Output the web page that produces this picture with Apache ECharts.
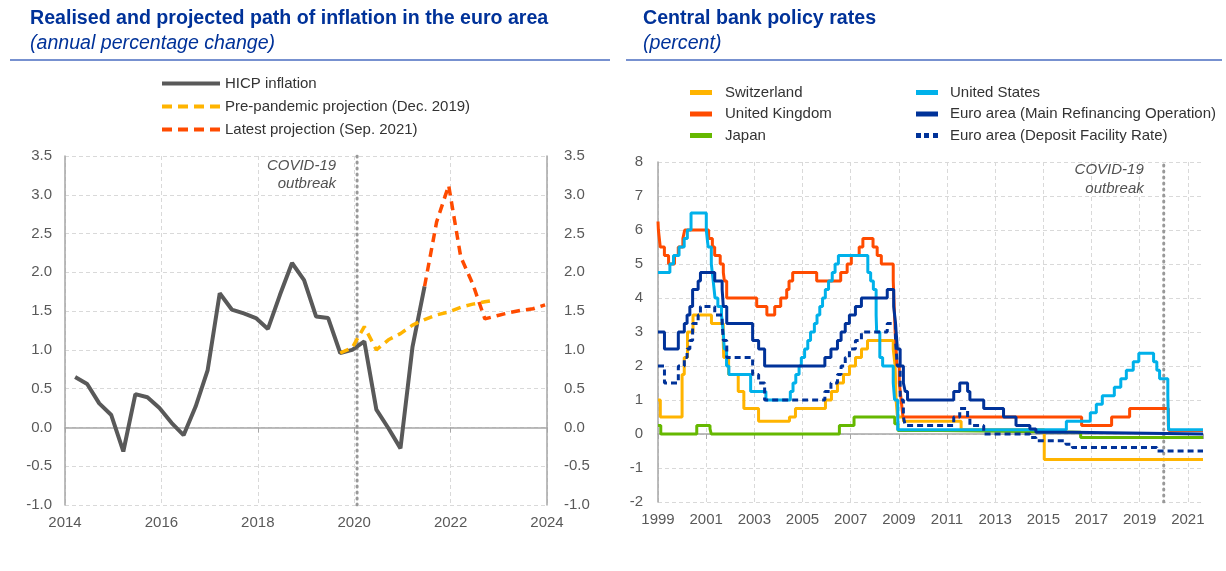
<!DOCTYPE html>
<html>
<head>
<meta charset="utf-8">
<title>Inflation and central bank policy rates</title>
<script src="https://cdn.jsdelivr.net/npm/echarts@6/dist/echarts.min.js"></script>
<style>
    html, body { margin: 0; padding: 0; background: #fff; }
    #chart { width: 1226px; height: 571px; }
</style>
</head>
<body>
<div id="chart"></div>
<script>
// left panel: quarterly HICP and projections (x = decimal year)
var hicpX = [2014.21, 2014.46, 2014.71, 2014.96, 2015.21, 2015.46, 2015.71, 2015.96, 2016.21, 2016.46,
    2016.71, 2016.96, 2017.21, 2017.46, 2017.71, 2017.96, 2018.21, 2018.46, 2018.71, 2018.96,
    2019.21, 2019.46, 2019.71, 2019.96, 2020.21, 2020.46, 2020.71, 2020.96, 2021.21, 2021.46];
var hicpY = [0.65, 0.56, 0.31, 0.16, -0.31, 0.43, 0.39, 0.25, 0.06, -0.10,
    0.27, 0.74, 1.73, 1.52, 1.47, 1.41, 1.27, 1.71, 2.12, 1.90,
    1.43, 1.41, 0.96, 1.00, 1.11, 0.23, -0.01, -0.27, 1.04, 1.82];

var preX = [2019.71, 2019.96, 2020.21, 2020.46, 2020.71, 2020.96, 2021.21, 2021.46, 2021.71, 2021.96,
    2022.21, 2022.46, 2022.71, 2022.9];
var preY = [0.96, 1.03, 1.30, 1.00, 1.13, 1.21, 1.32, 1.39, 1.45, 1.49,
    1.55, 1.59, 1.62, 1.64];

var latestX = [2021.46, 2021.71, 2021.96, 2022.21, 2022.46, 2022.71, 2022.96, 2023.21, 2023.46, 2023.71, 2023.96];
var latestY = [1.82, 2.65, 3.12, 2.20, 1.85, 1.40, 1.44, 1.48, 1.51, 1.53, 1.58];

var covidLeft = 2020.06;
var covidRight = 2020.0;

// right panel: policy rate changes (date the rate took effect, rate in %)
var chDates = ['1999-01-01', '1999-02-05', '2000-01-01', '2000-02-03', '2000-03-23', '2000-06-15', '2001-03-22',
    '2001-09-17', '2001-09-24', '2001-12-07', '2002-05-02', '2002-07-26', '2003-03-06', '2004-06-17',
    '2004-09-16', '2005-12-15', '2006-03-16', '2006-06-15', '2006-09-14', '2006-12-14', '2007-03-15',
    '2007-06-14', '2007-09-13', '2008-10-08', '2008-11-06', '2008-11-20', '2008-12-11', '2009-03-12',
    '2011-08-03', '2015-01-15'];
var chRates = [1.0, 0.5, 1.75, 2.25, 3.0, 3.5, 3.25,
    2.75, 2.25, 1.75, 1.25, 0.75, 0.375, 0.5,
    0.75, 1.0, 1.25, 1.5, 1.75, 2.0, 2.25,
    2.5, 2.75, 2.5, 2.0, 1.0, 0.5, 0.375,
    0.125, -0.75];

var ukDates = ['1999-01-01', '1999-01-07', '1999-02-04', '1999-04-08', '1999-06-10', '1999-09-08', '1999-11-04',
    '2000-01-13', '2000-02-10', '2001-02-08', '2001-04-05', '2001-05-10', '2001-08-02', '2001-09-18',
    '2001-10-04', '2001-11-08', '2003-02-06', '2003-07-10', '2003-11-06', '2004-02-05', '2004-05-06',
    '2004-06-10', '2004-08-05', '2005-08-04', '2006-08-03', '2006-11-09', '2007-01-11', '2007-05-10',
    '2007-07-05', '2007-12-06', '2008-02-07', '2008-04-10', '2008-10-08', '2008-11-06', '2008-12-04',
    '2009-01-08', '2009-02-05', '2009-03-05', '2016-08-04', '2017-11-02', '2018-08-02', '2020-03-11',
    '2020-03-19'];
var ukRates = [6.25, 6.0, 5.5, 5.25, 5.0, 5.25, 5.5,
    5.75, 6.0, 5.75, 5.5, 5.25, 5.0, 4.75,
    4.5, 4.0, 3.75, 3.5, 3.75, 4.0, 4.25,
    4.5, 4.75, 4.5, 4.75, 5.0, 5.25, 5.5,
    5.75, 5.5, 5.25, 5.0, 4.5, 3.0, 2.0,
    1.5, 1.0, 0.5, 0.25, 0.5, 0.75, 0.25,
    0.1];

var jpDates = ['1999-01-01', '1999-02-12', '2000-08-11', '2001-02-28', '2001-03-19', '2006-07-14', '2007-02-21',
    '2008-10-31', '2008-12-19', '2010-10-05', '2016-07-20'];
var jpRates = [0.25, 0.0, 0.25, 0.15, 0.0, 0.25, 0.5,
    0.3, 0.1, 0.05, -0.1];

var usDates = ['1999-01-01', '1999-06-30', '1999-08-24', '1999-11-16', '2000-02-02', '2000-03-21', '2000-05-16',
    '2001-01-03', '2001-01-31', '2001-03-20', '2001-04-18', '2001-05-15', '2001-06-27', '2001-08-21',
    '2001-09-17', '2001-10-02', '2001-11-06', '2001-12-11', '2002-11-06', '2003-06-25', '2004-06-30',
    '2004-08-10', '2004-09-21', '2004-11-10', '2004-12-14', '2005-02-02', '2005-03-22', '2005-05-03',
    '2005-06-30', '2005-08-09', '2005-09-20', '2005-11-01', '2005-12-13', '2006-01-31', '2006-03-28',
    '2006-05-10', '2006-06-29', '2007-09-18', '2007-10-31', '2007-12-11', '2008-01-22', '2008-01-30',
    '2008-03-18', '2008-04-30', '2008-10-08', '2008-10-29', '2008-12-16', '2015-12-16', '2016-12-14',
    '2017-03-15', '2017-06-14', '2017-12-13', '2018-03-21', '2018-06-13', '2018-09-26', '2018-12-19',
    '2019-07-31', '2019-09-18', '2019-10-30', '2020-03-03', '2020-03-15'];
var usRates = [4.75, 5.0, 5.25, 5.5, 5.75, 6.0, 6.5,
    6.0, 5.5, 5.0, 4.5, 4.0, 3.75, 3.5,
    3.0, 2.5, 2.0, 1.75, 1.25, 1.0, 1.25,
    1.5, 1.75, 2.0, 2.25, 2.5, 2.75, 3.0,
    3.25, 3.5, 3.75, 4.0, 4.25, 4.5, 4.75,
    5.0, 5.25, 4.75, 4.5, 4.25, 3.5, 3.0,
    2.25, 2.0, 1.5, 1.0, 0.125, 0.375, 0.625,
    0.875, 1.125, 1.375, 1.625, 1.875, 2.125, 2.375,
    2.125, 1.875, 1.625, 1.125, 0.125];

var mroDates = ['1999-01-01', '1999-04-09', '1999-11-05', '2000-02-04', '2000-03-17', '2000-04-28', '2000-06-09',
    '2000-09-01', '2000-10-06', '2001-05-11', '2001-08-31', '2001-09-18', '2001-11-09', '2002-12-06',
    '2003-03-07', '2003-06-06', '2005-12-06', '2006-03-08', '2006-06-15', '2006-08-09', '2006-10-11',
    '2006-12-13', '2007-03-14', '2007-06-13', '2008-07-09', '2008-10-15', '2008-11-12', '2008-12-10',
    '2009-01-21', '2009-03-11', '2009-04-08', '2009-05-13', '2011-04-13', '2011-07-13', '2011-11-09',
    '2011-12-14', '2012-07-11', '2013-05-08', '2013-11-13', '2014-06-11', '2014-09-10', '2016-03-16'];
var mroRates = [3.0, 2.5, 3.0, 3.25, 3.5, 3.75, 4.25,
    4.5, 4.75, 4.5, 4.25, 3.75, 3.25, 2.75,
    2.5, 2.0, 2.25, 2.5, 2.75, 3.0, 3.25,
    3.5, 3.75, 4.0, 4.25, 3.75, 3.25, 2.5,
    2.0, 1.5, 1.25, 1.0, 1.25, 1.5, 1.25,
    1.0, 0.75, 0.5, 0.25, 0.15, 0.05, 0.0];

var dfrDates = ['1999-01-01', '1999-04-09', '1999-11-05', '2000-02-04', '2000-03-17', '2000-04-28', '2000-06-09',
    '2000-09-01', '2000-10-06', '2001-05-11', '2001-08-31', '2001-09-18', '2001-11-09', '2002-12-06',
    '2003-03-07', '2003-06-06', '2005-12-06', '2006-03-08', '2006-06-15', '2006-08-09', '2006-10-11',
    '2006-12-13', '2007-03-14', '2007-06-13', '2008-07-09', '2008-11-12', '2008-12-10', '2009-01-21',
    '2009-03-11', '2009-04-08', '2011-04-13', '2011-07-13', '2011-11-09', '2011-12-14', '2012-07-11',
    '2014-06-11', '2014-09-10', '2015-12-09', '2016-03-16', '2019-09-18'];
var dfrRates = [2.0, 1.5, 2.0, 2.25, 2.5, 2.75, 3.25,
    3.5, 3.75, 3.5, 3.25, 2.75, 2.25, 1.75,
    1.5, 1.0, 1.25, 1.5, 1.75, 2.0, 2.25,
    2.5, 2.75, 3.0, 3.25, 2.75, 2.0, 1.0,
    0.5, 0.25, 0.5, 0.75, 0.5, 0.25, 0.0,
    -0.1, -0.2, -0.3, -0.4, -0.5];

var rateMin = 1999, rateMax = 2021.63;

var ecbBlue = '#003299';
var axisGrey = '#a6a6a6';
var gridGrey = '#d9d9d9';
var labelGrey = '#595959';
var font = 'Arial, "Liberation Sans", sans-serif';

// legend glyphs: solid bar, long dashes, short dots
var iconSolid = 'path://M0,0H20V4H0Z';
var iconDash = 'path://M0,0h10v4h-10z M16,0h10v4h-10z M32,0h10v4h-10z M48,0h10v4h-10z';
var iconDot = 'path://M0,0h5v5h-5z M8,0h5v5h-5z M17,0h5v5h-5z';

function toYear(s) {
    var d = new Date(s + 'T00:00:00Z');
    var y = d.getUTCFullYear();
    var start = Date.UTC(y, 0, 1), end = Date.UTC(y + 1, 0, 1);
    return y + (d.getTime() - start) / (end - start);
}

function pairs(xs, ys) {
    return xs.map(function (x, i) { return [x, ys[i]]; });
}

function steps(dates, rates) {
    var data = dates.map(function (s, i) { return [toYear(s), rates[i]]; });
    data.push([rateMax, rates[rates.length - 1]]);
    return data;
}

function rateLine(name, dates, rates, color, type) {
    return {
        name: name,
        type: 'line',
        xAxisIndex: 2,
        yAxisIndex: 2,
        step: 'end',
        symbol: 'none',
        data: steps(dates, rates),
        lineStyle: { color: color, width: 3, type: type || 'solid' },
        itemStyle: { color: color }
    };
}

function covidSeries(x, xi, yi, lo, hi, dist, offset, lh) {
    return [{
        type: 'line',
        xAxisIndex: xi,
        yAxisIndex: yi,
        symbol: 'none',
        silent: true,
        data: [[x, lo], [x, hi]],
        lineStyle: { color: '#999', width: 3, type: [1, 5], cap: 'round' },
        z: 1
    }, {
        type: 'scatter',
        xAxisIndex: xi,
        yAxisIndex: yi,
        symbolSize: 0,
        silent: true,
        data: [[x, hi]],
        label: {
            show: true,
            formatter: 'COVID-19\noutbreak',
            position: 'left',
            distance: dist,
            align: 'right',
            verticalAlign: 'top',
            offset: [0, offset],
            fontStyle: 'italic',
            fontSize: 15,
            lineHeight: lh,
            color: '#262626'
        }
    }];
}

function legendBox(left, top, width, height, gap, pad, items) {
    return {
        orient: 'vertical',
        left: left,
        top: top,
        padding: 0,
        itemWidth: width,
        itemHeight: height,
        itemGap: gap,
        symbolKeepAspect: false,
        textStyle: { color: '#333', fontSize: 15, lineHeight: 15, padding: [0, 0, 0, pad] },
        data: items
    };
}

var splitDash = { show: true, lineStyle: { color: gridGrey, type: [4, 3], width: 1 } };
var titleStyle = { color: ecbBlue, fontSize: 19.6, fontWeight: 'bold', lineHeight: 22, fontFamily: font };
var subStyle = { color: ecbBlue, fontSize: 19.6, fontStyle: 'italic', lineHeight: 22, fontFamily: font };

var option = {
    animation: false,
    textStyle: { fontFamily: font },
    title: [{
        text: 'Realised and projected path of inflation in the euro area',
        subtext: '(annual percentage change)',
        left: 30,
        top: 8,
        padding: 0,
        itemGap: 3,
        textStyle: titleStyle,
        subtextStyle: subStyle
    }, {
        text: 'Central bank policy rates',
        subtext: '(percent)',
        left: 643,
        top: 8,
        padding: 0,
        itemGap: 3,
        textStyle: titleStyle,
        subtextStyle: subStyle
    }],
    graphic: [
        { type: 'line', shape: { x1: 10, y1: 60, x2: 610, y2: 60 }, style: { stroke: '#4a6cc0', lineWidth: 1.5 } },
        { type: 'line', shape: { x1: 626, y1: 60, x2: 1222, y2: 60 }, style: { stroke: '#4a6cc0', lineWidth: 1.5 } }
    ],
    legend: [
        legendBox(162, 76, 58, 4, 8, 0, [
            { name: 'HICP inflation', icon: iconSolid },
            { name: 'Pre-pandemic projection (Dec. 2019)', icon: iconDash },
            { name: 'Latest projection (Sep. 2021)', icon: iconDash }
        ]),
        legendBox(690, 85, 22, 5, 6.5, 8, [
            { name: 'Switzerland', icon: iconSolid },
            { name: 'United Kingdom', icon: iconSolid },
            { name: 'Japan', icon: iconSolid }
        ]),
        legendBox(916, 85, 22, 5, 6.5, 7, [
            { name: 'United States', icon: iconSolid },
            { name: 'Euro area (Main Refinancing Operation)', icon: iconSolid },
            { name: 'Euro area (Deposit Facility Rate)', icon: iconDot }
        ])
    ],
    grid: [
        { left: 65, top: 156, width: 482, height: 349 },
        { left: 658, top: 162, width: 545, height: 340 }
    ],
    xAxis: [{
        gridIndex: 0,
        type: 'value',
        min: 2014,
        max: 2024,
        interval: 2,
        axisLine: { show: false, onZero: false },
        axisTick: { show: false },
        axisLabel: { color: labelGrey, fontSize: 15, margin: 10, formatter: function (v) { return String(v); } },
        splitLine: splitDash
    }, {
        // zero line with small ticks
        gridIndex: 0,
        type: 'value',
        position: 'top',
        min: 2014,
        max: 2024,
        interval: 2,
        axisLine: { show: true, onZero: true, onZeroAxisIndex: 0, lineStyle: { color: axisGrey, width: 1.5 } },
        axisTick: { show: true, inside: true, length: 5, lineStyle: { color: axisGrey } },
        axisLabel: { show: false },
        splitLine: { show: false }
    }, {
        gridIndex: 1,
        type: 'value',
        min: rateMin,
        max: rateMax,
        interval: 2,
        axisLine: { show: false, onZero: false },
        axisTick: { show: false },
        axisLabel: {
            color: labelGrey, fontSize: 15, margin: 10,
            formatter: function (v) { return Number.isInteger(v) ? String(v) : ''; }
        },
        splitLine: { show: true, showMaxLine: false, lineStyle: { color: gridGrey, type: [4, 3], width: 1 } }
    }, {
        gridIndex: 1,
        type: 'value',
        position: 'top',
        min: rateMin,
        max: rateMax,
        interval: 2,
        axisLine: { show: true, onZero: true, onZeroAxisIndex: 2, lineStyle: { color: axisGrey, width: 1.5 } },
        axisTick: { show: true, inside: true, length: 5, lineStyle: { color: axisGrey } },
        axisLabel: { show: false },
        splitLine: { show: false }
    }],
    yAxis: [{
        gridIndex: 0,
        type: 'value',
        min: -1,
        max: 3.5,
        interval: 0.5,
        axisLine: { show: true, onZero: false, lineStyle: { color: axisGrey, width: 1.5 } },
        axisTick: { show: false },
        axisLabel: { color: labelGrey, fontSize: 15, margin: 13, formatter: function (v) { return v.toFixed(1); } },
        splitLine: splitDash
    }, {
        gridIndex: 0,
        type: 'value',
        position: 'right',
        min: -1,
        max: 3.5,
        interval: 0.5,
        axisLine: { show: true, onZero: false, lineStyle: { color: axisGrey, width: 1.5 } },
        axisTick: { show: false },
        axisLabel: { color: labelGrey, fontSize: 15, margin: 17, formatter: function (v) { return v.toFixed(1); } },
        splitLine: { show: false }
    }, {
        gridIndex: 1,
        type: 'value',
        min: -2,
        max: 8,
        interval: 1,
        axisLine: { show: true, onZero: false, lineStyle: { color: axisGrey, width: 1.5 } },
        axisTick: { show: false },
        axisLabel: { color: labelGrey, fontSize: 15, margin: 15 },
        splitLine: splitDash
    }],
    series: [
        {
            name: 'HICP inflation',
            type: 'line',
            xAxisIndex: 0,
            yAxisIndex: 0,
            symbol: 'none',
            data: pairs(hicpX, hicpY),
            lineStyle: { color: '#595959', width: 4 },
            itemStyle: { color: '#595959' },
            z: 3
        },
        {
            name: 'Pre-pandemic projection (Dec. 2019)',
            type: 'line',
            xAxisIndex: 0,
            yAxisIndex: 0,
            symbol: 'none',
            data: pairs(preX, preY),
            lineStyle: { color: '#FFB400', width: 3.5, type: [9, 6] },
            itemStyle: { color: '#FFB400' },
            z: 4
        },
        {
            name: 'Latest projection (Sep. 2021)',
            type: 'line',
            xAxisIndex: 0,
            yAxisIndex: 0,
            symbol: 'none',
            data: pairs(latestX, latestY),
            lineStyle: { color: '#FF4B00', width: 3.5, type: [9, 6] },
            itemStyle: { color: '#FF4B00' },
            z: 4
        },
        rateLine('Switzerland', chDates, chRates, '#FFB400'),
        rateLine('United Kingdom', ukDates, ukRates, '#FF4B00'),
        rateLine('Japan', jpDates, jpRates, '#65B800'),
        rateLine('United States', usDates, usRates, '#00B1EA'),
        rateLine('Euro area (Main Refinancing Operation)', mroDates, mroRates, ecbBlue),
        rateLine('Euro area (Deposit Facility Rate)', dfrDates, dfrRates, ecbBlue, [6, 4])
    ]
        .concat(covidSeries(covidLeft, 0, 0, -1, 3.5, 21, 1, 18))
        .concat(covidSeries(covidRight, 2, 2, -2, 8, 20, -2, 19))
};

var chart = echarts.init(document.getElementById('chart'));
chart.setOption(option);
</script>
</body>
</html>
